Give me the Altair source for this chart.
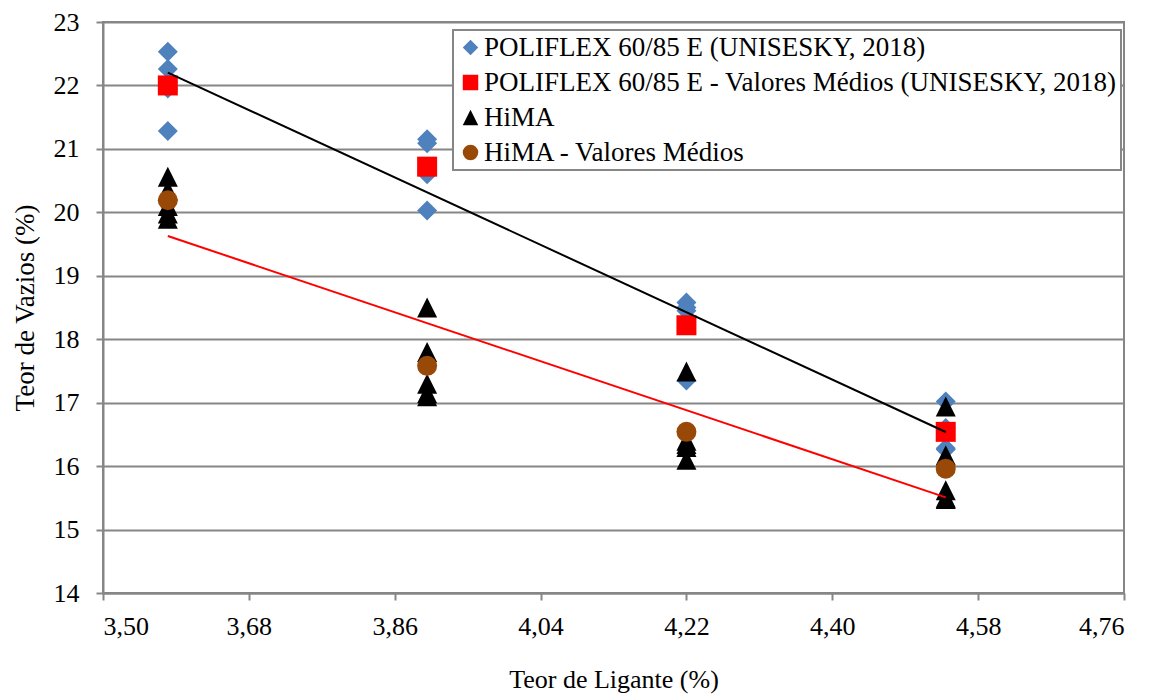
import altair as alt
import pandas as pd

# ---- data ----
x_levels = [3.58, 3.90, 4.22, 4.54]

poly_vals = [
    [22.53, 22.26, 21.95, 21.28],
    [21.15, 21.09, 20.60, 20.03],
    [18.58, 18.50, 18.45, 17.35],
    [17.02, 16.60, 16.28, 16.26],
]
poly_mean = [22.00, 20.72, 18.22, 16.54]

hima_vals = [
    [20.56, 20.35, 20.10, 19.98, 19.90],
    [18.50, 17.80, 17.30, 17.15, 17.10],
    [17.49, 16.40, 16.35, 16.30, 16.10],
    [16.94, 16.17, 15.62, 15.50, 15.48],
]
hima_mean = [20.19, 17.58, 16.54, 15.96]

series_names = [
    "POLIFLEX 60/85 E (UNISESKY, 2018)",
    "POLIFLEX 60/85 E - Valores Médios (UNISESKY, 2018)",
    "HiMA",
    "HiMA - Valores Médios",
]
series_colors = ["#4F81BD", "#FF0000", "#000000", "#984807"]
series_shapes = ["diamond", "square", "M0,-1L1,1L-1,1Z", "circle"]

x_ticks = [3.50, 3.68, 3.86, 4.04, 4.22, 4.40, 4.58, 4.76]
y_ticks = [14, 15, 16, 17, 18, 19, 20, 21, 22, 23]

# ---- build table ----
rows = []
k = 0
for xv, vals in zip(x_levels, poly_vals):
    for v in vals:
        rows.append({"x": xv, "y": v, "series": series_names[0], "k": k}); k += 1
for xv, v in zip(x_levels, poly_mean):
    rows.append({"x": xv, "y": v, "series": series_names[1], "k": k}); k += 1
for xv, vals in zip(x_levels, hima_vals):
    for v in vals:
        rows.append({"x": xv, "y": v, "series": series_names[2], "k": k}); k += 1
for xv, v in zip(x_levels, hima_mean):
    rows.append({"x": xv, "y": v, "series": series_names[3], "k": k}); k += 1
df = pd.DataFrame(rows)

FONT = "'Times New Roman', 'Liberation Serif', serif"
GRAY = "#868686"

x_enc = alt.X(
    "x:Q",
    scale=alt.Scale(domain=[3.5, 4.76], nice=False, zero=False),
    axis=alt.Axis(
        values=x_ticks,
        labelExpr="replace(format(datum.value, '.2f'), '.', ',')",
        grid=False,
        title="Teor de Ligante (%)",
        tickSize=7,
        labelPadding=13,
        labelFont=FONT,
        labelFontSize=26,
        titleX=510.5,
        titleY=86,
        titleBaseline="middle",
    ),
)
y_enc = alt.Y(
    "y:Q",
    scale=alt.Scale(domain=[14, 23], nice=False, zero=False),
    axis=alt.Axis(
        values=y_ticks,
        format="d",
        grid=True,
        title="Teor de Vazios (%)",
        tickSize=7,
        labelPadding=17,
        labelFont=FONT,
        labelFontSize=26,
        titleX=-78,
        titleY=285.5,
        titleAngle=270,
        titleBaseline="middle",
        titleFontSize=27,
    ),
)

legend_props = dict(
    orient="none",
    legendX=350,
    legendY=8,
    title=None,
    fillColor="white",
    strokeColor=GRAY,
    padding=4,
    rowPadding=7,
    labelOffset=0,
    labelFont=FONT,
    labelFontSize=27,
    labelColor="black",
    labelLimit=1000,
    symbolSize=240,
    symbolStrokeWidth=0,
)

points = alt.Chart(df).mark_point(filled=True, opacity=1, size=400).encode(
    x=x_enc,
    y=y_enc,
    color=alt.Color(
        "series:N",
        scale=alt.Scale(domain=series_names, range=series_colors),
        legend=alt.Legend(**legend_props),
    ),
    shape=alt.Shape(
        "series:N",
        scale=alt.Scale(domain=series_names, range=series_shapes),
        legend=alt.Legend(**legend_props),
    ),
    order=alt.Order("k:Q"),
)

line_poly = (
    alt.Chart(df)
    .transform_filter(alt.datum.series == series_names[1])
    .transform_regression("x", "y")
    .mark_line(color="black", strokeWidth=2)
    .encode(x="x:Q", y="y:Q")
)
line_hima = (
    alt.Chart(df)
    .transform_filter(alt.datum.series == series_names[3])
    .transform_regression("x", "y")
    .mark_line(color="#FF0000", strokeWidth=2)
    .encode(x="x:Q", y="y:Q")
)

chart = (
    alt.layer(points, line_poly, line_hima)
    .properties(
        width=1021,
        height=571,
        autosize=alt.AutoSizeParams(type="none"),
        padding={"left": 95, "top": 14, "right": 20, "bottom": 101},
        background="white",
    )
    .configure(font=FONT)
    .configure_view(stroke=GRAY, strokeWidth=2)
    .configure_legend(labelFont=FONT, labelFontSize=27, strokeWidth=2)
    .configure_axis(
        domainColor=GRAY,
        domainWidth=2,
        tickColor=GRAY,
        tickWidth=2,
        gridColor=GRAY,
        gridWidth=2,
        labelFont=FONT,
        labelFontSize=26,
        labelColor="black",
        titleFont=FONT,
        titleFontSize=26,
        titleFontWeight="normal",
        titleColor="black",
    )
)

chart.save("out.html", embed_options={"renderer": "svg", "actions": False})
